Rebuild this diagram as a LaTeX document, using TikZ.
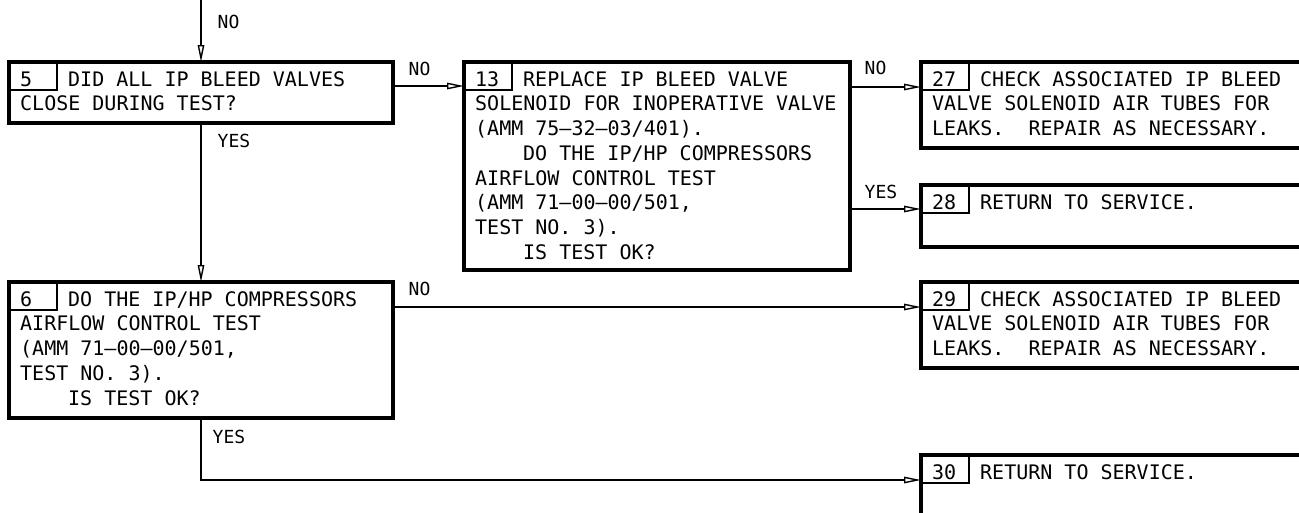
\documentclass[tikz,border=0pt]{standalone}
\usepackage{fontspec}
\newfontfamily\dmono{DejaVu Sans Mono}
\usetikzlibrary{arrows.meta,positioning}
\newcommand{\firstline}{\rule{0pt}{17pt}\hspace*{48pt}}

\begin{document}
\frenchspacing
\begin{tikzpicture}[
    x=1pt, y=-1pt,
    box/.style={draw, line width=3.5pt, anchor=north west, inner sep=0pt, outer sep=0pt},
    cell/.style={draw, line width=1.1pt, anchor=north west, outer sep=0pt, inner xsep=11pt, inner ysep=0pt,
        text width=26pt, text height=24pt, text depth=4pt, align=left, font=\dmono\fontsize{20pt}{24.7pt}\selectfont},
    txt/.style={anchor=north west, inner sep=0pt, align=left, font=\dmono\fontsize{20pt}{24.7pt}\selectfont},
    lbl/.style={anchor=base west, inner sep=0pt, font=\dmono\fontsize{18pt}{20pt}\selectfont},
    arrow/.style={-{Triangle[open, length=17pt, width=6.5pt]}, line width=1.4pt}
]
\useasboundingbox (0,0) rectangle (1299,512);
\clip (0,0) rectangle (1299,512);

\node[box, minimum width=384pt, minimum height=61pt] (box5) at (9,62) {};
\node[box, minimum width=386pt, minimum height=208pt, right=71pt of box5.north east, anchor=north west] (box13) {};
\node[box, minimum width=420pt, minimum height=86pt, right=71pt of box13.north east, anchor=north west] (box27) {};
\node[box, minimum width=420pt, minimum height=62pt, below=37pt of box27.south west, anchor=north west] (box28) {};
\node[box, minimum width=384pt, minimum height=136pt, below=159pt of box5.south west, anchor=north west] (box6) {};
\node[box, minimum width=420pt, minimum height=86pt, anchor=north west] (box29) at (box28.south west |- box6.north west) {};
\node[box, minimum width=420pt, minimum height=62pt, below=87pt of box29.south west, anchor=north west] (box30) {};

\node[cell] (n5) at (box5.north west) {5};
\node[cell] (n13) at (box13.north west) {13};
\node[cell] (n27) at (box27.north west) {27};
\node[cell] (n28) at (box28.north west) {28};
\node[cell] (n6) at (box6.north west) {6};
\node[cell] (n29) at (box29.north west) {29};
\node[cell] (n30) at (box30.north west) {30};

\node[txt] (t5) at ([xshift=11pt, yshift=-7pt]box5.north west)
    {\firstline DID ALL IP BLEED VALVES\\CLOSE DURING TEST?};
\node[txt] (t13) at ([xshift=11pt, yshift=-7pt]box13.north west)
    {\firstline REPLACE IP BLEED VALVE\\SOLENOID FOR INOPERATIVE VALVE\\(AMM 75–32–03/401).\\
     \hspace*{48pt}DO THE IP/HP COMPRESSORS\\AIRFLOW CONTROL TEST\\(AMM 71–00–00/501,\\TEST NO. 3).\\
     \hspace*{48pt}IS TEST OK?};
\node[txt] (t27) at ([xshift=11pt, yshift=-7pt]box27.north west)
    {\firstline CHECK ASSOCIATED IP BLEED\\VALVE SOLENOID AIR TUBES FOR\\LEAKS.~~REPAIR AS NECESSARY.};
\node[txt] (t28) at ([xshift=11pt, yshift=-7pt]box28.north west)
    {\firstline RETURN TO SERVICE.};
\node[txt] (t6) at ([xshift=11pt, yshift=-7pt]box6.north west)
    {\firstline DO THE IP/HP COMPRESSORS\\AIRFLOW CONTROL TEST\\(AMM 71–00–00/501,\\TEST NO. 3).\\
     \hspace*{48pt}IS TEST OK?};
\node[txt] (t29) at ([xshift=11pt, yshift=-7pt]box29.north west)
    {\firstline CHECK ASSOCIATED IP BLEED\\VALVE SOLENOID AIR TUBES FOR\\LEAKS.~~REPAIR AS NECESSARY.};
\node[txt] (t30) at ([xshift=11pt, yshift=-7pt]box30.north west)
    {\firstline RETURN TO SERVICE.};

\coordinate (top) at (201,0);
\coordinate (in13) at ([yshift=-24pt]box13.north west);
\coordinate (in27) at ([yshift=-25pt]box27.north west);
\coordinate (in28) at ([yshift=-24pt]box28.north west);
\coordinate (in29) at ([yshift=-25pt]box29.north west);
\coordinate (in30) at ([yshift=-25pt]box30.north west);

\draw[arrow] (top) -- node[lbl, pos=0, xshift=16pt, yshift=-28pt] (l5) {NO} (box5.north);
\draw[arrow] (box5.south) -- node[lbl, pos=0, xshift=16pt, yshift=-24pt] (l6) {YES} (box6.north);
\draw[arrow] (box5.east |- in13) -- node[lbl, pos=0, xshift=15pt, yshift=11pt] (l13) {NO} (in13);
\draw[arrow] (box13.east |- in27) -- node[lbl, pos=0, xshift=14pt, yshift=13pt] (l27) {NO} (in27);
\draw[arrow] (box13.east |- in28) -- node[lbl, pos=0, xshift=14pt, yshift=11pt] (l28) {YES} (in28);
\draw[arrow] (box6.east |- in29) -- node[lbl, pos=0, xshift=15pt, yshift=12pt] (l29) {NO} (in29);
\draw[arrow] (box6.south) |- node[lbl, pos=0, xshift=11pt, yshift=-25pt] (l30) {YES} (in30);
\end{tikzpicture}
\end{document}
